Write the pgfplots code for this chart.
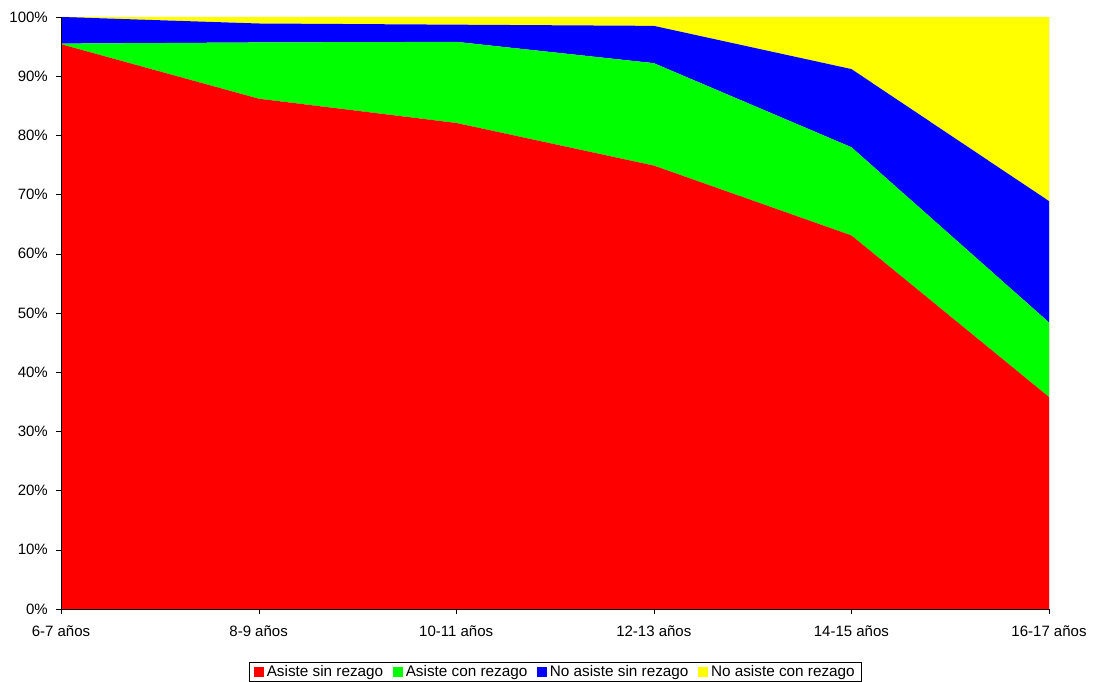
\documentclass[border=0pt]{standalone}
\usepackage{pgfplots}
\pgfplotsset{compat=1.18}
\usepackage{fontspec}
\setmainfont{Liberation Sans}
\definecolor{cred}{HTML}{FF0000}
\definecolor{cgreen}{HTML}{00FF00}
\definecolor{cblue}{HTML}{0000FF}
\definecolor{cyellow}{HTML}{FFFF00}
\begin{document}
\fontsize{15bp}{18bp}\selectfont
\begin{tikzpicture}[x=1bp,y=1bp]
\useasboundingbox (0,0) rectangle (1094,682);
\begin{axis}[
  at={(61bp,73bp)}, anchor=south west,
  scale only axis, width=988bp, height=592bp,
  xmin=0, xmax=5, ymin=0, ymax=100,
  stack plots=y,
  axis x line*=bottom, axis y line*=left,
  axis line style={-, black},
  xtick={0,1,2,3,4,5},
  xticklabels={6-7 años,8-9 años,10-11 años,12-13 años,14-15 años,16-17 años},
  ytick={0,10,...,100},
  yticklabel={\pgfmathprintnumber{\tick}\%},
  tick align=outside, major tick length=5bp,
  tick style={black},
  xticklabel style={yshift=-7bp},
  yticklabel style={xshift=-3bp},
  /pgf/number format/assume math mode=true,
  ticklabel style={font=\fontsize{15bp}{18bp}\selectfont},
  axis on top,
  legend columns=4,
  legend style={at={(0.5,-0.106)}, anchor=center, draw=black, font=\fontsize{15.3bp}{18bp}\selectfont,
    inner xsep=5bp, inner ysep=1bp,
    nodes={inner xsep=1.5bp, inner ysep=2bp},
    /tikz/every even column/.append style={column sep=8bp},
    /tikz/every odd column/.append style={column sep=1.5bp}},
  legend image code/.code={\fill[#1] (0bp,-5bp) rectangle (10bp,5bp);},
  legend cell align=left,
]
\addplot[draw=none, fill=cred] coordinates {(0,95.4) (1,86.2) (2,82.1) (3,74.9) (4,63.1) (5,35.8)} \closedcycle;
\addlegendentry{Asiste sin rezago}
\addplot[draw=none, fill=cgreen] coordinates {(0,0.1) (1,9.5) (2,13.7) (3,17.3) (4,14.9) (5,12.6)} \closedcycle;
\addlegendentry{Asiste con rezago}
\addplot[draw=none, fill=cblue] coordinates {(0,4.5) (1,3.2) (2,2.9) (3,6.3) (4,13.2) (5,20.5)} \closedcycle;
\addlegendentry{No asiste sin rezago}
\addplot[draw=none, fill=cyellow] coordinates {(0,0.0) (1,1.1) (2,1.3) (3,1.5) (4,8.8) (5,31.1)} \closedcycle;
\addlegendentry{No asiste con rezago}
\draw[gray] (rel axis cs:0,1) -- (rel axis cs:1,1) -- (rel axis cs:1,0);
\end{axis}
\end{tikzpicture}
\end{document}
